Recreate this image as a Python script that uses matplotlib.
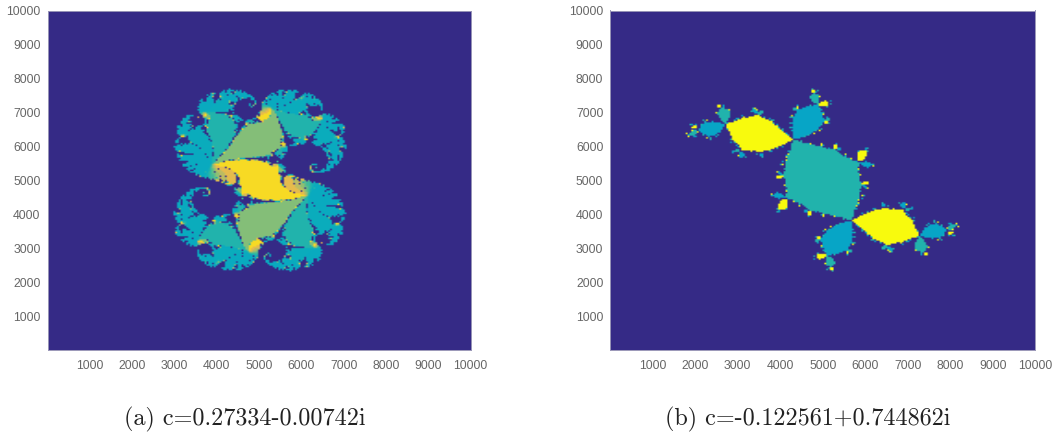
import numpy as np
import matplotlib
matplotlib.use('Agg')
import matplotlib.pyplot as plt
from matplotlib.colors import LinearSegmentedColormap

# constants read from the captions
c_left = 0.27334 - 0.00742j
c_right = -0.122561 + 0.744862j
captions = ['(a) c=0.27334-0.00742i', '(b) c=-0.122561+0.744862i']
tick_values = [1000, 2000, 3000, 4000, 5000, 6000, 7000, 8000, 9000, 10000]

half_width = 2.0
grid_size = 230
iterations_left = 1000
iterations_right = 300

# colour level of each piece
levels_start = [0.93, 0.80, 0.72, 0.66, 0.60, 0.55, 0.50, 0.46, 0.43]
levels_end = [0.64, 0.49, 0.43]
level_other = 0.42
levels_right = [0.49, 0.39, 1.0]

parula_colors = [(0.2081, 0.1663, 0.5292), (0.1959, 0.2645, 0.7279), (0.0117, 0.3875, 0.8820),
                 (0.0629, 0.4737, 0.8554), (0.0641, 0.5570, 0.8240), (0.0239, 0.6287, 0.8038),
                 (0.0384, 0.6743, 0.7436), (0.1453, 0.7098, 0.6646), (0.3022, 0.7376, 0.5712),
                 (0.5300, 0.7491, 0.4661), (0.7184, 0.7411, 0.3905), (0.8824, 0.7274, 0.3217),
                 (0.9990, 0.7653, 0.2164), (0.9697, 0.8481, 0.1475), (0.9763, 0.9831, 0.0538)]
parula = LinearSegmentedColormap.from_list('parula', parula_colors)


def iterate(c, n):
    axis = np.linspace(-half_width, half_width, grid_size)
    x, y = np.meshgrid(axis, axis)
    z = x + 1j * y
    alive = np.ones(z.shape, dtype=bool)
    for i in range(n):
        z[alive] = z[alive] ** 2 + c
        alive[np.abs(z) > 2] = False
    return z, alive


def orbit_of_zero(c, n):
    w = [0j]
    for i in range(n):
        w.append(w[-1] ** 2 + c)
    return np.array(w)


def phase_of(z, alive, points):
    # which orbit point each surviving pixel ended closest to
    d = np.abs(z[alive][:, None] - points[None, :])
    phase = np.zeros(z.shape, dtype=int)
    phase[alive] = d.argmin(axis=1)
    return phase


# left panel: pieces labelled by their place on the long cycle
w = orbit_of_zero(c_left, iterations_left + 400)
period = 1 + np.argmin(np.abs(w[iterations_left + 1:iterations_left + 301] - w[iterations_left]))
z, alive = iterate(c_left, iterations_left)
phase = phase_of(z, alive, w[iterations_left:iterations_left + period])
lookup = np.full(period, level_other)
for j, v in enumerate(levels_start[:period]):
    lookup[j] = v
for j, v in enumerate(levels_end):
    if j < period:
        lookup[period - 1 - j] = v
img_left = np.where(alive, lookup[phase], 0.0)

# right panel: the rabbit, three pieces
z, alive = iterate(c_right, iterations_right)
phase = phase_of(z, alive, np.array([0, c_right, c_right ** 2 + c_right]))
img_right = np.where(alive, np.array(levels_right)[phase], 0.0)

plt.rcParams['font.family'] = ['Liberation Sans']
fig = plt.figure(figsize=(10.59, 4.34), dpi=100)
ax1 = fig.add_axes([47.5 / 1059, 1 - 350 / 434, 423.2 / 1059, 339.3 / 434])
ax2 = fig.add_axes([610.3 / 1059, 1 - 350 / 434, 425 / 1059, 339.5 / 434])

for ax, img in ((ax1, img_left), (ax2, img_right)):
    ax.imshow(img, cmap=parula, vmin=0, vmax=1, origin='lower', extent=[1, 10000, 1, 10000],
              aspect='auto', interpolation='bilinear', interpolation_stage='rgba')
    ax.set_xticks(tick_values)
    ax.set_yticks(tick_values)
    ax.tick_params(length=0, labelsize=8.8, labelcolor='#666666')
    ax.tick_params(axis='x', pad=7)
    ax.tick_params(axis='y', pad=5)
    for s in ax.spines.values():
        s.set_color('#9a97b8')
        s.set_linewidth(0.7)

fig.text(245 / 1059, 1 - 419 / 434, captions[0], family='cmr10', fontsize=17.4, ha='center', va='center', color='#222222')
fig.text(808 / 1059, 1 - 419 / 434, captions[1], family='cmr10', fontsize=17.4, ha='center', va='center', color='#222222')

fig.savefig('out.png', dpi=100)
